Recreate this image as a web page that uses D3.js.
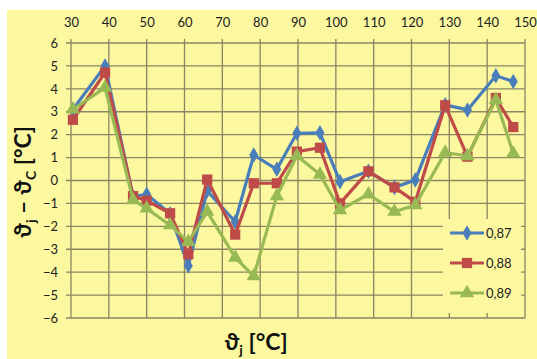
<!DOCTYPE html>
<html>
<head>
<meta charset="utf-8">
<script src="https://cdn.jsdelivr.net/npm/d3@7"></script>
<style>
  html, body { margin: 0; padding: 0; background: #ffffff; }
  svg { display: block; }
</style>
</head>
<body>
<svg id="chart" width="537" height="359"></svg>
<script>
// Junction temperature readings (°C) on the horizontal axis
const tempJ = [30.5, 39, 46.4, 50, 56.2, 61, 66, 73.4, 78.3, 84.4, 89.7, 95.8, 101.1, 108.6, 115.5, 121, 128.9, 134.8, 142.3, 146.9];
// Temperature difference ϑj − ϑC for each ratio
const s087 = [3.1, 5.0, -0.7, -0.6, -1.45, -3.72, -0.45, -1.8, 1.11, 0.49, 2.06, 2.08, -0.05, 0.4, -0.3, 0.02, 3.3, 3.08, 4.57, 4.32];
const s088 = [2.65, 4.71, -0.68, -0.88, -1.43, -3.22, 0.04, -2.36, -0.12, -0.12, 1.26, 1.43, -1.0, 0.4, -0.3, -0.93, 3.28, 1.04, 3.6, 2.33];
const s089 = [3.1, 4.05, -0.85, -1.22, -1.95, -2.68, -1.36, -3.36, -4.17, -0.68, 1.08, 0.26, -1.29, -0.6, -1.36, -1.07, 1.22, 1.07, 3.52, 1.18];
const seriesNames = ["0,87", "0,88", "0,89"];
const xTicks = [30, 40, 50, 60, 70, 80, 90, 100, 110, 120, 130, 140, 150];
const yTicks = [6, 5, 4, 3, 2, 1, 0, -1, -2, -3, -4, -5, -6];

const colors = ["#4a7ebb", "#be4b48", "#98b954"];
const shapes = [d3.symbolDiamond, d3.symbolSquare, d3.symbolTriangle];
const shapeSizes = [70, 105, 90];

const svg = d3.select("#chart");
const W = 537, H = 359;
const font = "Lato, 'DejaVu Sans', sans-serif";

// Yellow chart area
svg.append("rect").attr("x", 7).attr("y", 10).attr("width", W - 7).attr("height", H - 10)
  .attr("fill", "#fcf8a0");

const plot = { left: 71, right: 525, top: 43, bottom: 318 };
const x = d3.scaleLinear().domain([30, 150]).range([plot.left, plot.right]);
const y = d3.scaleLinear().domain([-6, 6]).range([plot.bottom, plot.top]);

const gridColor = "#8a8664";

// Vertical grid lines with small ticks above the plot
const gx = svg.append("g");
gx.selectAll("line").data(xTicks).join("line")
  .attr("x1", d => x(d)).attr("x2", d => x(d))
  .attr("y1", plot.top - 4).attr("y2", plot.bottom)
  .attr("stroke", gridColor).attr("stroke-width", 1.3);

// Horizontal grid lines with small ticks left of the plot
const gy = svg.append("g");
gy.selectAll("line").data(yTicks).join("line")
  .attr("x1", plot.left - 5).attr("x2", plot.right)
  .attr("y1", d => y(d)).attr("y2", d => y(d))
  .attr("stroke", gridColor).attr("stroke-width", 1.3);

// Top axis labels
const topAxis = d3.axisTop(x).tickValues(xTicks).tickSize(0).tickPadding(0);
const ta = svg.append("g").attr("transform", `translate(0, 27)`).call(topAxis);
ta.select(".domain").remove();
ta.selectAll("text").attr("font-family", font).attr("font-size", 13).attr("fill", "#222");

// Left axis labels
const leftAxis = d3.axisLeft(y).tickValues(yTicks).tickSize(0).tickPadding(0);
const la = svg.append("g").attr("transform", `translate(58, 0)`).call(leftAxis);
la.select(".domain").remove();
la.selectAll("text").attr("font-family", font).attr("font-size", 13).attr("fill", "#222");

// Series lines and markers
const seriesData = [s087, s088, s089];
seriesData.forEach((vals, i) => {
  const pts = tempJ.map((t, k) => [t, vals[k]]);
  svg.append("path").datum(pts)
    .attr("fill", "none").attr("stroke", colors[i]).attr("stroke-width", 3.2)
    .attr("stroke-linejoin", "round")
    .attr("d", d3.line().x(d => x(d[0])).y(d => y(d[1])));
  svg.append("g").selectAll("path").data(pts).join("path")
    .attr("transform", d => `translate(${x(d[0])},${y(d[1])})`)
    .attr("d", d3.symbol().type(shapes[i]).size(shapeSizes[i]))
    .attr("fill", colors[i]);
});

// Legend
const lg = svg.append("g").attr("transform", "translate(443, 219)");
lg.append("rect").attr("width", 78).attr("height", 94).attr("fill", "#fcf8a0");
seriesNames.forEach((name, i) => {
  const ly = 14 + i * 30;
  lg.append("line").attr("x1", 7).attr("x2", 41).attr("y1", ly).attr("y2", ly)
    .attr("stroke", colors[i]).attr("stroke-width", 3.2);
  lg.append("path").attr("transform", `translate(24,${ly})`)
    .attr("d", d3.symbol().type(shapes[i]).size(shapeSizes[i]))
    .attr("fill", colors[i]);
  lg.append("text").attr("x", 43).attr("y", ly + 4.5)
    .attr("font-family", font).attr("font-size", 13).attr("fill", "#222").text(name);
});

// Axis titles
const xt = svg.append("text").attr("x", 256).attr("y", 350).attr("text-anchor", "middle")
  .attr("font-family", font).attr("font-size", 23).attr("font-weight", "bold").attr("fill", "#111");
xt.append("tspan").text("ϑ");
xt.append("tspan").attr("font-size", 14).attr("dy", 5).text("j");
xt.append("tspan").attr("dy", -5).text(" [°C]");

const yt = svg.append("text").attr("transform", "translate(31, 182) rotate(-90)").attr("text-anchor", "middle")
  .attr("font-family", font).attr("font-size", 23).attr("font-weight", "bold").attr("fill", "#111");
yt.append("tspan").text("ϑ");
yt.append("tspan").attr("font-size", 14).attr("dy", 5).text("j");
yt.append("tspan").attr("dy", -5).text(" – ϑ");
yt.append("tspan").attr("font-size", 14).attr("dy", 5).text("C");
yt.append("tspan").attr("dy", -5).text(" [°C]");
</script>
</body>
</html>
